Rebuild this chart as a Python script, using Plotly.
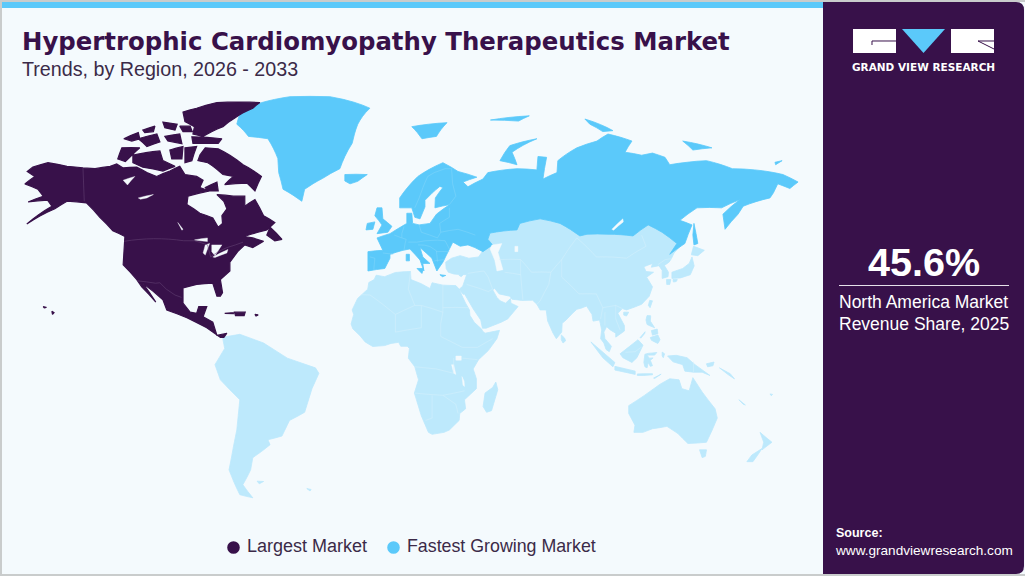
import plotly.graph_objects as go

TITLE = "Hypertrophic Cardiomyopathy Therapeutics Market"
SUBTITLE = "Trends, by Region, 2026 - 2033"
SHARE = "45.6%"
SHARE_TEXT = ["North America Market", "Revenue Share, 2025"]
LEGEND_NAMES = ["Largest Market", "Fastest Growing Market"]

DARK = "#38114A"
FAST = "#5BC9FA"
LIGHT = "#BDE9FC"
BG = "#F4FAFD"

# ---- outlines read as lon/lat ----
NORTH_AMERICA = [
    [(-167.4,70.3),(-164.8,71.4),(-157.8,72.5),(-149,71.6),(-141.6,71.2),(-136,71),(-129,71.6),(-126,72.2),(-123,71.2),(-116.7,71.4),(-112,70),(-107.5,69),(-101.4,70.4),(-96.8,71.6),(-94.4,69.5),(-89,69),(-86,68),(-87.5,66),(-83,65),(-93,63.5),(-93.5,61),(-87.5,58.3),(-81.5,56.8),(-79,53.7),(-77,55),(-77.3,57.5),(-75,59.7),(-76.4,62),(-79.6,64),(-72,63.5),(-66.7,63.5),(-66.7,60.5),(-62,62.5),(-58,57.5),(-52.8,55.3),(-56.5,52.8),(-60.6,52),(-67,50.5),(-63,50),(-58,48.8),(-63,46.5),(-66.7,47.5),(-70,45),(-73.6,41),(-73.6,37.5),(-78,34),(-77,28.5),(-78,27),(-79.6,27),(-81.5,32.5),(-89,32),(-95.3,30.5),(-95.3,24),(-92,20),(-89,19.5),(-88,22.5),(-84.3,22.5),(-86,18),(-81.5,15.5),(-79.6,9.5),(-75,10.5),(-76.4,8.6),(-78,8.6),(-84.3,13),(-93.5,17.5),(-102.8,21),(-104.6,25.5),(-113.9,32.5),(-107.9,24.5),(-114.4,31),(-116.7,34),(-123,40),(-122.2,50.5),(-127.8,52.5),(-133.8,57),(-140,61.5),(-149,62),(-154.6,59.7),(-167.6,54.8),(-156,60.5),(-158,62.3),(-167,61.8),(-160,63.5),(-162.5,65.5),(-168.5,67),(-163.9,69)],
    [(-87.5,74.3),(-85,76),(-79,75.8),(-73.6,74.3),(-67.5,72),(-59,69),(-62,65),(-65.7,67.2),(-76,66.8),(-72,69),(-76.8,69.5),(-83.8,72.5),(-88.4,73)],
    [(-85,66),(-79.6,67.5),(-79,65),(-83.8,65)],
    [(-118.5,74.3),(-106,75.3),(-104.6,73),(-99,71.6),(-104.6,70.4),(-113.9,71.4),(-118.5,72.5)],
    [(-125.5,73.4),(-123.6,76),(-115.3,76),(-119,74.3),(-122,72.8)],
    [(-122.7,78),(-116,79.3),(-115.3,78),(-119,77.5)],
    [(-116,78),(-107.4,79),(-106,77.3),(-112,76.3)],
    [(-113.9,79.8),(-108.3,80.6),(-109,79.5),(-113,79.3)],
    [(-104.6,81.4),(-98,81),(-99,79.8),(-103.7,80.3)],
    [(-103.7,78.5),(-96.8,79),(-95.8,76.9),(-102.3,77.5)],
    [(-101.4,75.5),(-95.3,76.3),(-95.8,73.4),(-100.5,73.4)],
    [(-94.4,76),(-89,76.3),(-91.2,73),(-94.4,72.5)],
    [(-91.2,78.4),(-77.3,78),(-79,77),(-90.7,77)],
    [(-96.8,80.6),(-92,80.6),(-91,79.5),(-95.3,79.5)],
    [(-95.3,83.3),(-89,84),(-79.6,85),(-59.7,85),(-63,84),(-71.3,82.2),(-76.8,80.5),(-86,78.5),(-90.7,79),(-90,80.5),(-94.4,81.5)],
    [(-55,53.7),(-49.5,49.5),(-52.8,49),(-56.5,51)],
    [(-71.5,20),(-66.5,20),(-67,18.5),(-71,18.5)],
    [(-62,19),(-60.5,18.8),(-61.5,18.3)],
    [(-76,19.5),(-72,19.8),(-72,19.4)],
    [(-156,20.4),(-155,19.8),(-155.7,19)],
    [(-160,22.5),(-158.5,22.1),(-159.5,21.9)],
]
GREENLAND = [
    [(-58.8,85),(-45.8,86),(-27.3,86),(-8.8,84),(-14.4,81),(-17,77),(-22.7,71),(-30.6,68.5),(-39,65.5),(-40.3,62),(-49,65.5),(-51,70),(-51.4,73.5),(-56,78),(-65,78.5),(-70.4,81),(-69,83)],
]
EUROPE_RUSSIA = [
    [(-9.7,37.5),(-9.7,45),(-2.8,45.5),(-5.5,50),(0.5,51.5),(6,54),(8.3,55),(8.3,58.3),(10.6,58.3),(11,55),(14,54.5),(19,55),(22,58),(28.2,61),(21.3,60),(21.5,63),(25,66),(23.6,66.3),(16.7,62.3),(16.7,60.3),(14.4,56.5),(12,57),(10.6,60),(5,60),(5,63),(13.4,69),(25,72.5),(32,70.3),(40.7,68.8),(34.3,67.5),(36.6,66.2),(43.5,68.3),(45.8,70),(59.3,71),(68.5,70.7),(69,74),(73,73.8),(71.3,68.3),(77.8,70),(78.2,73),(87,76),(96.3,77.5),(101.4,79),(112.5,77.5),(109.3,75),(117,74.3),(122,74.8),(127.8,73.8),(130,72),(138,72.6),(147,73),(159,71),(169.4,70.7),(182.4,69.5),(189.4,67.5),(185.6,65.7),(180,67),(178,64.5),(176.4,63),(164,60.5),(161.6,58),(155.6,53),(154.6,58),(162.5,62.5),(154,60),(142.6,60),(134.7,56),(140.3,54.5),(137,48),(130,44),(133.3,48),(126.4,52),(120,54.5),(113,50.7),(101.4,51.3),(91.7,51.3),(88.4,50.7),(79.2,55),(70,56.5),(60.6,55),(59.3,52.8),(46.8,51.7),(45.8,49.5),(48,47.5),(43.5,45),(39.8,46.5),(36.6,47.5),(33,47),(29.6,48.5),(26.8,44),(25,41),(22.2,37.5),(19.9,42.5),(14.4,46.5),(15.7,43),(19,40.5),(15.7,40.5),(16.2,37.5),(14.4,41.8),(9.7,46),(6.5,45.5),(0.5,44),(0.5,42.5),(-1.9,38.5)],
    [(-5.5,60),(-3.2,60),(-2.8,56.5),(1.4,54),(-0.5,52),(-5.5,51.5),(-3.2,54.5),(-6.5,57.5)],
    [(-10,55),(-6.5,55.5),(-7.4,53),(-10.6,52.8)],
    [(-20.4,69.5),(-10,69.5),(-14.4,67.7),(-18,67),(-20.4,67.8)],
    [(10.6,80.5),(26.9,81.3),(22,78.5),(15.3,78)],
    [(51.4,73),(56,76.5),(68.5,78),(57,75),(59.3,72)],
    [(47,81.8),(65,82.6),(60,81.6)],
    [(90.7,82),(103.7,79.7),(99,79.5),(93,81)],
    [(136,77.5),(149.5,76),(140.7,75.5)],
    [(178.7,72.6),(182,73),(179,72)],
    [(141.2,55),(143,48),(141.2,47.5),(140.7,51)],
    [(8,44),(9.5,44),(9.5,41.5),(8,41.5)],
    [(13,38.5),(16,38.5),(15.3,36.5)],
    [(23.6,36),(26.3,35.7),(24.8,35.2)],
]
ASIA = [
    [(26.3,41),(29,42.5),(33,43.5),(37,42.5),(41.5,43),(45,47),(45,52),(59,56),(70,58),(80,57),(90,54),(101,54),(113,54),(120,56),(127,54),(134,50),(135,47),(132,44.5),(130.7,42.3),(129.7,41),(127.5,39.7),(129.4,37),(129.2,35.2),(126.5,34.5),(126.5,37.7),(125,39.6),(121.5,39),(122,40.5),(118,39.2),(119,37.3),(122.5,37),(119.3,35),(122,31),(120.5,27),(117,23.5),(113.5,22.2),(110,21),(108,21.6),(106,19.5),(109,14),(109,11.5),(105,8.7),(105,10.5),(102.5,12),(100.8,13.5),(99.5,11),(100,8),(103,4.5),(102,2),(100.5,3),(99.5,6),(98,8),(98.5,12),(97.5,16.5),(94.5,16),(94,19),(91.5,22.7),(89,21.8),(87,21.3),(85,19.5),(82,16.5),(80.2,15),(80,11),(77.5,8),(76,10.5),(73.5,16),(72.8,21),(70,21),(68.5,23.5),(66.5,25.3),(61.5,25.2),(57,25.7),(56,27),(51,28),(49,30.3),(48,29.8),(50,26.5),(51.5,25),(54,24),(56.3,26),(56.5,24),(59.8,22.5),(55,17),(52,15.5),(45,12.8),(43.3,12.8),(42.5,16.5),(39,21.5),(35,28),(34.3,27.8),(32.6,30),(34.2,31.3),(36,36),(32.5,36.1),(30,36.3),(27.5,37),(26.5,38.5)],
    [(-5.9,35.8),(-2,35.2),(3,36.9),(10,37.3),(10.2,34),(15,32.3),(19,30.3),(20,32.7),(25,31.7),(31,31.5),(32.6,30),(33.7,27.5),(35.5,24),(37.3,21),(37.5,18.6),(39.5,15.5),(43,12.3),(43.3,11.5),(44.5,10.5),(51.2,11.8),(50,8),(46,2.5),(41.5,-1.7),(39,-6),(40.5,-10.5),(40.5,-15),(35,-20),(35.5,-24),(32.8,-26),(32.5,-29),(28,-33),(25.5,-34),(20,-34.8),(18.3,-34),(15,-27),(11.8,-17),(13.7,-11),(12,-5),(9,-1),(9.5,3.5),(8.5,4.5),(5.5,4.5),(4.5,6.3),(1,5.8),(-2,4.8),(-7.5,4.4),(-11,6.5),(-13.5,9.5),(-16.7,12.5),(-17.5,14.7),(-16.3,19),(-17,21),(-14.5,26),(-9.8,30),(-9.3,32.8),(-6.8,34)],
    [(-77,8.6),(-69,10),(-58,6),(-47,-1),(-34,-5.5),(-32.4,-8),(-35.6,-15),(-39,-25.5),(-46,-29),(-49.5,-35.5),(-56,-37),(-55,-39),(-63,-44),(-64,-48.5),(-67.6,-53.7),(-63,-58),(-69,-57),(-74,-48.5),(-72,-40),(-70.4,-33),(-69,-20),(-78,-11),(-80.5,-4),(-76,3.5)],
    [(111,-22.6),(125.5,-13),(130,-10.5),(134.3,-11),(135.6,-15),(139,-16),(140.7,-10),(145,-16.5),(151,-24),(152,-28),(147,-38),(138.4,-38.5),(133.8,-34.5),(128.7,-31.5),(122,-32.5),(117.6,-34),(113.4,-34),(113.9,-31),(111,-26)],
    [(143.8,-41),(147,-41),(146.5,-43.5),(145,-44)],
    [(171.8,-34),(177.3,-38),(172.7,-41),(173.5,-38)],
    [(172.7,-40.5),(168.5,-45.5),(165.7,-45.5),(168,-43)],
    [(129,0),(133,0.3),(138,-0.8),(141.7,-4),(148.6,-9),(145,-7.5),(141,-7.5),(137,-7),(136,-4),(131.5,-2.7)],
    [(107,1),(115.3,7.5),(117.6,5),(114.8,-0.8),(112.5,-3),(108.3,-0.8)],
    [(93.5,6.5),(104.6,-3),(103.7,-5),(99,-0.8)],
    [(104.6,-4.8),(114,-7),(114,-8.5),(104.6,-6.5)],
    [(118.5,0.8),(120,1.2),(124,1.6),(123,0.4),(119.5,0.4),(120.5,-1),(122.3,-0.9),(121,-2),(122,-4.5),(121,-4.8),(120,-3),(119.5,-5.5),(118.5,-5),(118,-3)],
    [(115,-8.3),(118,-8.2),(122,-8.2),(122,-8.7),(118,-9),(115,-9)],
    [(122.5,-10.2),(126,-8.4),(124,-9.7),(123,-10.4)],
    [(126.5,1.8),(127.6,1),(127,-0.8),(126.5,0)],
    [(119.5,18.5),(121.2,18.4),(121,16),(123,13),(121,13.8),(119.5,14.5),(119,16.5)],
    [(121,8.5),(124.5,9.7),(125.5,7.5),(124.5,5.8),(123,6.5),(121.5,7.3)],
    [(116.2,8.4),(118.6,11.2),(118.4,10.4),(116.8,8.4)],
    [(121.5,11.7),(124.2,12.4),(124.5,10.3),(122,9.6)],
    [(120.7,25.2),(122,25),(120.9,22),(120.1,23)],
    [(108.7,20),(111,20),(110,18.3),(108.7,18.7)],
    [(79.8,9.7),(81.3,8.3),(81.8,7),(80.6,6),(79.8,7.5)],
    [(140.3,43),(141.3,39.5),(139.5,36),(135,34.7),(131,34.5),(131,37),(136,38.5),(139,40.5)],
    [(141,47),(146,45.5),(143,43.5),(140,43.8)],
    [(128.5,34),(130.5,34),(130,32),(128.6,32)],
    [(131.5,34),(133.5,34),(133,33.2),(131.7,33)],
    [(49.5,-12),(50.4,-15.5),(47.5,-24.8),(45.2,-25.5),(43.6,-23),(44.5,-17),(48,-14.5)],
    [(32.4,35.8),(34.5,36.1),(33.5,35.2)],
    [(153,-5.5),(158,-8.2),(160,-10.6),(157,-8.6)],
    [(147,-3.6),(150.5,-2.8),(150,-4.5),(147.5,-5)],
    [(162,-20),(165,-22.3),(164,-22)],
    [(176.4,-17.4),(177.6,-17.6),(177,-18.2)],
    [(-61,-52.5),(-58,-52.6),(-60,-53.4)],
    [(-38,-55),(-36,-55.3),(-36.5,-55.8)],
]
# water bodies painted over the land
LAKES = [
    [(-90,49.3),(-84,50),(-84,48.7),(-87.5,49)],
    [(-85,47.5),(-83,48),(-85,43.7),(-86,44.5)],
    [(-82,47.5),(-77.3,47.5),(-80.5,43.5),(-82,45)],
    [(-81.5,43),(-74.5,45.8),(-75,44.5),(-80.5,42.8)],
    [(-116,63),(-109,64),(-112,63),(-115,62.6)],
    [(-123,68),(-117.6,69),(-121,66.7)],
    [(-97.7,55.3),(-95.3,53),(-95.8,52.7)],
    [(47.7,47.5),(52.3,48),(50.5,44.7),(52.8,38),(50,37.5),(49,41.7),(46.8,46)],
    [(58.3,47),(59.7,47),(59.7,45),(58.3,45)],
    [(108.3,56.5),(103.2,53),(104,52.7),(108.5,55.5)],
    [(31,0),(33.5,0),(33.5,-2),(31,-2)],
    [(29,-4),(30,-4),(31,-8.5),(30,-8)],
    [(33.8,-9.5),(34.8,-11.5),(35,-14),(34.3,-13.5)],
]
NA_BORDERS = [
    [(-141.6,71.2),(-141,62)],
    [(-122.5,48.8),(-95,49),(-90,49),(-84,47.5),(-82.5,43),(-79,45),(-75,46.5),(-71,47.5),(-67.5,48.5)],
    [(-116.5,33.5),(-108,32.5),(-106,32.7),(-103,30),(-99,27.5),(-96,26.5)],
]
EU_BORDERS = [
    [(12,60),(14,63),(18,69),(21,70)],
    [(21,70),(26,71),(29,71),(29.5,67),(31,63.5),(28,61)],
    [(-2.8,44.5),(2,44)], [(-8.8,43),(-6.5,42.5),(-7,38)],
    [(2.5,51),(6,50),(8,49.5),(7.5,48),(7,45.5)], [(7,54),(6,51.5),(6,50)],
    [(14,54.5),(15,52),(19,51),(22.5,50),(24,52),(23.5,55)],
    [(9,48.5),(13,48.5),(17,49),(22.5,49.2)], [(13.5,47.5),(16.5,47.4),(19,46.9),(22,45.3),(22.5,41.2)],
    [(22.5,49.2),(26,49),(28,46)], [(22,45),(28,45)], [(21,41.5),(26,42)],
    [(24,52),(32,53),(40,51)], [(23.5,55),(28,57),(28,60)],
]
ASIA_BORDERS = [
    [(51,42),(61,42),(66,37),(75,37),(80,42),(87,50)], [(61,42),(61,36),(62,25.5)], [(36,32),(46,29),(48,30)], [(44,37.5),(36.5,36.5)],
    [(44,37.5),(46,35),(48,30)], [(61,36),(53.5,37)], [(75,37),(74,32),(70,25),(68.5,23.5)], [(80,42),(80,35),(88,28),(96,28),(99,22),(105,23),(108,21.6)],
    [(87,50),(96,43),(110,42.5),(119,47),(117,51)], [(124.5,40),(128,42),(130.7,42.3)], [(100,20),(100,14)], [(99,22),(98,17)], [(105,23),(105,17),(107,12)],
    [(25,31.7),(25,20),(24,15),(24,9),(34,4)], [(25,22),(37,22)], [(10,37),(9,30),(12,23),(15,23),(25,20)], [(-8.7,27.5),(3,19),(12,23)], [(-13,27.7),(-8.7,27.5)],
    [(3,19),(3,11),(15,13),(15,23)], [(34,4),(41,4),(48,8)], [(34,-1),(41,-1.7)], [(30,-1),(30,-8)], [(12,-5),(22,-6),(30,-8)], [(12,-17),(25,-18),(35,-16)], [(20,-18),(20,-28),(17,-29)], [(25,-18),(31,-22),(32,-26)],
    [(141,-2.6),(141,-7.5)], [(109.5,1.7),(114,2),(117,4.2)],
]


def rings(polys):
    """Join outlines into a gap-separated lon/lat pair; outer rings run clockwise."""
    lon, lat = [], []
    for p in polys:
        area = sum(a[0] * b[1] - b[0] * a[1] for a, b in zip(p, p[1:] + p[:1]))
        q = list(reversed(p)) if area > 0 else list(p)
        q = q + [q[0]]
        lon += [c[0] for c in q] + [None]
        lat += [c[1] for c in q] + [None]
    return lon[:-1], lat[:-1]


def lines(polys):
    lon, lat = [], []
    for p in polys:
        lon += [c[0] for c in p] + [None]
        lat += [c[1] for c in p] + [None]
    return lon[:-1], lat[:-1]


W, H = 1025, 576
fig = go.Figure()


def land(polys, color, width=0.8):
    lon, lat = rings(polys)
    fig.add_trace(go.Scattergeo(lon=lon, lat=lat, mode="lines", fill="toself", fillcolor=color,
                                line=dict(color=color, width=width), hoverinfo="skip", showlegend=False))


def border(polys, color):
    lon, lat = lines(polys)
    fig.add_trace(go.Scattergeo(lon=lon, lat=lat, mode="lines", line=dict(color=color, width=0.5),
                                hoverinfo="skip", showlegend=False))


land(ASIA, LIGHT)
land(EUROPE_RUSSIA, FAST)
land(GREENLAND, FAST)
land(NORTH_AMERICA, DARK, 1.2)
land(LAKES, BG, 0.4)
border(NA_BORDERS, "#6A4A7A")
border(EU_BORDERS, "#84D6FB")
border(ASIA_BORDERS, "#D6F1FD")


def px(x):
    return x / W


def py(y):
    return 1 - y / H


def rect(x0, y0, x1, y1, color):
    return dict(type="rect", xref="paper", yref="paper", x0=px(x0), x1=px(x1), y0=py(y0), y1=py(y1),
                fillcolor=color, line_width=0, layer="above")


def dot(x, y, r, color):
    return dict(type="circle", xref="paper", yref="paper", x0=px(x - r), x1=px(x + r), y0=py(y + r), y1=py(y - r),
                fillcolor=color, line_width=0, layer="above")


def poly(points, color, line=None):
    d = "M" + "L".join(f"{px(x):.5f},{py(y):.5f}" for x, y in points) + ("Z" if line is None else "")
    return dict(type="path", xref="paper", yref="paper", path=d,
                fillcolor=color if line is None else "rgba(0,0,0,0)",
                line=dict(color=line or color, width=1 if line else 0), layer="above")


panel_path = (f"M{px(823)},{py(2)}L{px(1016)},{py(2)}Q{px(1024)},{py(2)} {px(1024)},{py(10)}"
              f"L{px(1024)},{py(566)}Q{px(1024)},{py(574)} {px(1016)},{py(574)}L{px(823)},{py(574)}Z")

shapes = [
    rect(0, 0, 2, H, "#C9CCCC"), rect(0, 0, W, 2, "#C9CCCC"), rect(0, 574, W, H, "#C9CCCC"),
    rect(2, 2, 823, 8, FAST),
    dict(type="path", xref="paper", yref="paper", path=panel_path, fillcolor=DARK, line_width=0, layer="above"),
    # logo
    poly([(853, 29), (896, 29), (896, 53), (853, 53)], "#FFFFFF"),
    poly([(896, 41), (872, 41), (872, 45)], DARK, line=DARK),
    poly([(902, 29), (945, 29), (923.5, 53)], FAST),
    poly([(951, 29), (994, 29), (994, 53), (951, 53)], "#FFFFFF"),
    poly([(994, 41), (978, 41), (994, 49)], DARK, line=DARK),
    # metric rule
    rect(839, 285, 1009, 286, "#E6E0EA"),
    # key
    dot(233.5, 547.5, 6.3, DARK),
    dot(393.5, 547.5, 6.3, FAST),
]


def label(text, x, y, size, color, anchor="left", family="Liberation Sans", bold=False):
    return dict(text=f"<b>{text}</b>" if bold else text, x=px(x), y=py(y), xref="paper", yref="paper",
                xanchor=anchor, yanchor="middle", showarrow=False,
                font=dict(family=family, size=size, color=color))


annotations = [
    label(TITLE, 20, 41, 24.4, DARK, family="DejaVu Sans", bold=True),
    label(SUBTITLE, 20, 69, 19.7, "#3B2A48"),
    label("GRAND VIEW RESEARCH", 923.5, 67, 10.5, "#FFFFFF", "center", "DejaVu Sans", True),
    label(SHARE, 923.5, 262, 39.5, "#FFFFFF", "center", "Liberation Sans", True),
    label(SHARE_TEXT[0], 923.5, 302, 17.5, "#FFFFFF", "center"),
    label(SHARE_TEXT[1], 923.5, 324, 17.5, "#FFFFFF", "center"),
    label("Source:", 834, 533, 12.5, "#FFFFFF", bold=True),
    label("www.grandviewresearch.com", 833, 550, 13.6, "#FFFFFF"),
    label(LEGEND_NAMES[0], 245, 546, 18, "#3B2A48"),
    label(LEGEND_NAMES[1], 405, 546, 17.8, "#3B2A48"),
]

fig.update_layout(
    width=W, height=H, autosize=False,
    margin=dict(l=0, r=0, t=0, b=0),
    paper_bgcolor=BG, plot_bgcolor=BG,
    shapes=shapes, annotations=annotations,
    showlegend=False,
    geo=dict(
        domain=dict(x=[0, 821 / W], y=[0, 1]),
        bgcolor="rgba(0,0,0,0)",
        projection=dict(type="miller", rotation=dict(lon=10), scale=0.99),
        center=dict(lon=10, lat=30.5),
        showland=False, showocean=False, showlakes=False, showrivers=False,
        showcountries=False, showcoastlines=False, showframe=False, showsubunits=False,
        lonaxis=dict(showgrid=False), lataxis=dict(showgrid=False),
    ),
)

fig.write_html("out.html", config=dict(displayModeBar=False),
               post_script="document.body.style.margin='0';document.body.style.overflow='hidden';")
